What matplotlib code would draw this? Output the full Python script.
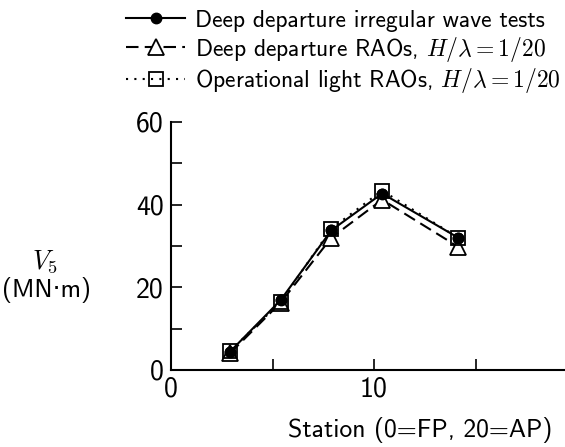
import matplotlib
matplotlib.use("Agg")
import matplotlib.pyplot as plt

plt.rcParams['font.family'] = ['cmss10', 'DejaVu Sans']
plt.rcParams['mathtext.fontset'] = 'cm'
plt.rcParams['axes.unicode_minus'] = False

station = [2.9, 5.4, 7.9, 10.4, 14.15]
irregular = [4.4, 16.9, 33.8, 42.7, 32.0]
deep_rao = [4.0, 16.3, 32.0, 41.2, 29.8]
light_rao = [4.5, 16.5, 34.2, 43.4, 32.0]

labels = ["Deep departure irregular wave tests",
          r"Deep departure RAOs, $H/\lambda = 1/20$",
          r"Operational light RAOs, $H/\lambda = 1/20$"]

fig = plt.figure(figsize=(5.65, 4.47), dpi=100)
ax = fig.add_axes([171/565, 77/447, 19.5*20.3/565, 248/447])

l1, = ax.plot(station, irregular, '-', color='black', lw=1.5, marker='o', ms=7.5,
              mfc='black', mec='black')
l2, = ax.plot(station, deep_rao, color='black', lw=1.5, ls=(0, (6, 3)), marker='^', ms=11,
              mfc='white', mec='black', mew=1.3)
l3, = ax.plot(station, light_rao, color='black', lw=1.5, ls=(0, (1, 3)), marker='s', ms=10.5,
              mfc='none', mec='black', mew=1.3)
ax.plot(station, irregular, 'o', color='black', ms=7.5)

ax.set_xlim(0, 19.5)
ax.set_ylim(0, 60)
ax.set_xticks([0, 5, 10, 15])
ax.set_xticklabels(['0', '', '10', ''])
ax.set_yticks([0, 10, 20, 30, 40, 50, 60])
ax.set_yticklabels(['0', '', '20', '', '40', '', '60'])
ax.tick_params(direction='in', length=8, width=1.2, labelsize=20, pad=5)
for s in ['top', 'right']:
    ax.spines[s].set_visible(False)
for s in ['left', 'bottom']:
    ax.spines[s].set_linewidth(1.5)

fig.legend([l1, l2, l3], labels, loc='upper left', bbox_to_anchor=(112/565, 1.01),
           frameon=False, fontsize=17, handlelength=2.5, handletextpad=0.4,
           labelspacing=0.12, borderaxespad=0.2)

fig.text(45/565, 1-262/447, r"$V_5$", ha='center', va='center', fontsize=19)
fig.text(47/565, 1-290/447, "(MN·m)", ha='center', va='center', fontsize=18.5)
fig.text(420/565, 1-430/447, "Station (0=FP, 20=AP)", ha='center', va='center', fontsize=18.5)

fig.savefig("out.png", dpi=100)
